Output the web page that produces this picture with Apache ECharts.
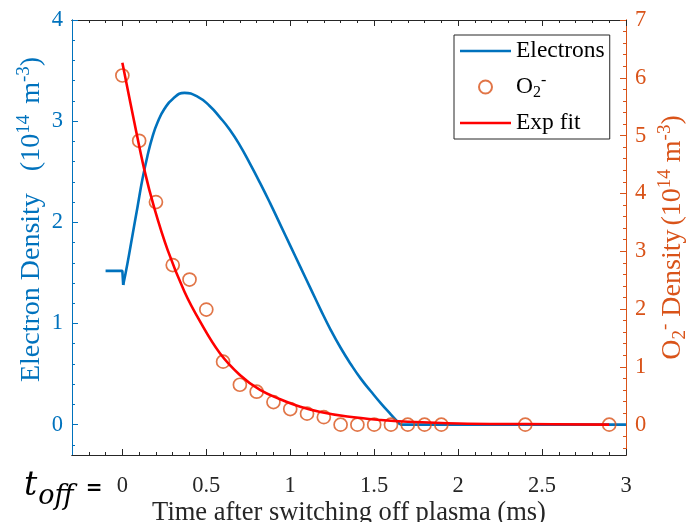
<!DOCTYPE html>
<html>
<head>
<meta charset="utf-8">
<script src="https://cdn.jsdelivr.net/npm/echarts@6/dist/echarts.min.js"></script>
<style>
  html, body { margin: 0; padding: 0; background: #fff; }
  #chart { width: 698px; height: 522px; }
</style>
</head>
<body>
<div id="chart"></div>
<script>
// Electron density (1e14 m^-3) vs time after plasma switch-off (ms)
const electronsBefore = [[-0.1, 1.52], [0, 1.52], [0.005, 1.38]];
const electronsDecay = [
  [0.005, 1.38], [0.03, 1.59], [0.06, 1.87], [0.09, 2.15], [0.12, 2.43],
  [0.15, 2.66], [0.18, 2.85], [0.21, 2.99], [0.25, 3.12],
  [0.30, 3.22], [0.37, 3.28], [0.45, 3.24], [0.52, 3.15], [0.58, 3.04],
  [0.64, 2.915], [0.70, 2.76], [0.76, 2.58], [0.82, 2.39], [0.88, 2.19],
  [0.94, 1.98], [1.00, 1.77], [1.06, 1.56], [1.12, 1.35], [1.18, 1.14],
  [1.24, 0.94], [1.30, 0.76], [1.36, 0.60], [1.42, 0.455], [1.48, 0.33],
  [1.54, 0.21], [1.60, 0.10], [1.655, 0]
];
const electronsAfter = [[1.655, 0], [3.0, 0]];

// Measured O2- density (1e14 m^-3)
const o2Times = [0, 0.1, 0.2, 0.3, 0.4, 0.5, 0.6, 0.7, 0.8, 0.9, 1.0, 1.1,
  1.2, 1.3, 1.4, 1.5, 1.6, 1.7, 1.8, 1.9, 2.4, 2.9];
const o2Density = [6.04, 4.91, 3.85, 2.76, 2.51, 1.99, 1.09, 0.69, 0.57, 0.39,
  0.27, 0.19, 0.13, 0, 0, 0, 0, 0, 0, 0, 0, 0];

// Exponential fit through the O2- points
const expFit = [
  [0, 6.26], [0.07, 5.25], [0.13, 4.42], [0.19, 3.75], [0.27, 3.02],
  [0.37, 2.30], [0.46, 1.80], [0.58, 1.24], [0.70, 0.86], [0.82, 0.60],
  [0.94, 0.44], [1.06, 0.31], [1.18, 0.22], [1.34, 0.14], [1.54, 0.08],
  [1.70, 0.05], [2.00, 0.02], [2.40, 0.01], [2.90, 0.0]
];

// Tick positions
const xLabels = [0, 0.5, 1, 1.5, 2, 2.5, 3];
const xMinor = [-0.2, -0.1, 0.1, 0.2, 0.3, 0.4, 0.6, 0.7, 0.8, 0.9, 1.1, 1.2, 1.3, 1.4,
  1.6, 1.7, 1.8, 1.9, 2.1, 2.2, 2.3, 2.4, 2.6, 2.7, 2.8, 2.9];
const leftLabels = [0, 1, 2, 3, 4];
const leftMinor = [-0.2, 0.2, 0.4, 0.6, 0.8, 1.2, 1.4, 1.6, 1.8, 2.2, 2.4, 2.6, 2.8,
  3.2, 3.4, 3.6, 3.8];
const rightLabels = [0, 1, 2, 3, 4, 5, 6, 7];
const rightMinor = [-0.4, -0.2, 0.2, 0.4, 0.6, 0.8, 1.2, 1.4, 1.6, 1.8, 2.2, 2.4, 2.6, 2.8,
  3.2, 3.4, 3.6, 3.8, 4.2, 4.4, 4.6, 4.8, 5.2, 5.4, 5.6, 5.8, 6.2, 6.4, 6.6, 6.8];

const BLUE = '#0072BD';
const ORANGE = '#D95319';
const RED = '#FF0000';
const DARK = '#262626';
const SERIF = '"Liberation Serif", "Times New Roman", serif';
const LINE_ICON = 'path://M0,0H51V2.6H0Z';

function richScripts(color) {
  const base = { fontFamily: SERIF, color: color, lineHeight: 34 };
  return {
    n: Object.assign({ fontSize: 28, verticalAlign: 'middle' }, base),
    gw: Object.assign({ fontSize: 28, width: 22 }, base),
    gs: Object.assign({ fontSize: 28, width: 11 }, base),
    gn: Object.assign({ fontSize: 28, width: 4 }, base),
    sup: Object.assign({ fontSize: 19, verticalAlign: 'top' }, base),
    sub: Object.assign({ fontSize: 19, verticalAlign: 'bottom' }, base)
  };
}

function xAxisDef(position, values, len, withLabels) {
  return {
    type: 'value', position: position, min: -0.3, max: 3,
    axisLine: { show: true, onZero: false, lineStyle: { color: DARK, width: 1 } },
    axisTick: { show: true, inside: true, length: len, customValues: values, lineStyle: { color: DARK } },
    axisLabel: withLabels ? {
      show: true, customValues: values, margin: 20, color: DARK,
      fontFamily: SERIF, fontSize: 22.5, formatter: v => String(v)
    } : { show: false },
    splitLine: { show: false }
  };
}

function yAxisDef(position, min, max, color, values, len, withLabels) {
  return {
    type: 'value', position: position, min: min, max: max,
    axisLine: { show: true, onZero: false, lineStyle: { color: color, width: 1 } },
    axisTick: { show: true, inside: true, length: len, customValues: values, lineStyle: { color: color } },
    axisLabel: withLabels ? {
      show: true, customValues: values, margin: 9, color: color,
      fontFamily: SERIF, fontSize: 22.5, formatter: v => String(v)
    } : { show: false },
    splitLine: { show: false }
  };
}

const chart = echarts.init(document.getElementById('chart'), null, { renderer: 'canvas' });

const xMain = xAxisDef('bottom', xLabels, 6, true);
xMain.name = 'Time after switching off plasma (ms)';
xMain.nameLocation = 'middle';
xMain.nameGap = 45;
xMain.nameMoveOverlap = false;
xMain.nameTextStyle = { fontFamily: SERIF, fontSize: 26.5, color: DARK };

const yLeft = yAxisDef('left', -0.3, 4, BLUE, leftLabels, 6, true);
yLeft.name = '{n|Electron Density}{gw|}{n|(10}{sup|14}{gs|}{n|m}{sup|-3}{n|)}';
yLeft.nameLocation = 'middle';
yLeft.nameRotate = 90;
yLeft.nameGap = 23;
yLeft.nameMoveOverlap = false;
yLeft.nameTextStyle = { color: BLUE, padding: [0, 0, 0, 36], rich: richScripts(BLUE) };

const yRight = yAxisDef('right', -0.525, 7, ORANGE, rightLabels, 6, true);
yRight.name = '{n|O}{sub|2}{sup|-}{n| Density}{gn|}{n|(10}{sup|14}{n| m}{sup|-3}{n|)}';
yRight.nameLocation = 'middle';
yRight.nameRotate = 90;
yRight.nameGap = 30;
yRight.nameMoveOverlap = false;
yRight.nameTextStyle = { color: ORANGE, rich: richScripts(ORANGE) };

const option = {
  backgroundColor: '#fff',
  animation: false,
  grid: { left: 72, right: 72, top: 20, bottom: 67, outerBoundsMode: 'none', containLabel: false },
  xAxis: [
    xMain,
    xAxisDef('bottom', xMinor, 3, false),
    xAxisDef('top', xLabels, 6, false),
    xAxisDef('top', xMinor, 3, false)
  ],
  yAxis: [
    yLeft,
    yRight,
    yAxisDef('left', -0.3, 4, BLUE, leftMinor, 3, false),
    yAxisDef('right', -0.525, 7, ORANGE, rightMinor, 3, false)
  ],
  legend: {
    orient: 'vertical',
    left: 454, top: 35,
    padding: [4, 5, 4, 6],
    itemGap: 10,
    itemWidth: 51,
    itemHeight: 13,
    backgroundColor: '#fff',
    borderColor: DARK,
    borderWidth: 1,
    borderRadius: 0,
    data: [
      { name: 'Electrons', icon: LINE_ICON },
      { name: 'O2-' },
      { name: 'Exp fit', icon: LINE_ICON }
    ],
    formatter: name => name === 'O2-' ? '{n|O}{sub|2}{sup|-}' : '{n|' + name + '}',
    textStyle: {
      rich: {
        n: { fontFamily: SERIF, fontSize: 23.5, color: '#000', lineHeight: 28 },
        sup: { fontFamily: SERIF, fontSize: 16, color: '#000', lineHeight: 28, verticalAlign: 'top' },
        sub: { fontFamily: SERIF, fontSize: 16, color: '#000', lineHeight: 28, verticalAlign: 'bottom' }
      }
    }
  },
  graphic: [{
    type: 'text',
    left: 24, top: 470,
    style: {
      text: '{t|t}{s|off}{e|=}',
      rich: {
        t: { fontFamily: '"DejaVu Serif", serif', fontStyle: 'italic', fontSize: 33, fill: '#000', lineHeight: 40, verticalAlign: 'top' },
        s: { fontFamily: '"DejaVu Serif", serif', fontStyle: 'italic', fontSize: 27, fill: '#000', lineHeight: 40, verticalAlign: 'bottom', padding: [0, 0, 0, 1] },
        e: { fontFamily: '"DejaVu Sans", sans-serif', fontWeight: 'bold', fontSize: 20, fill: '#000', lineHeight: 40, verticalAlign: 'top', padding: [9, 0, 0, 12] }
      }
    }
  }],
  series: [
    {
      name: 'Electrons', type: 'line', xAxisIndex: 0, yAxisIndex: 0,
      data: electronsBefore, symbol: 'none', smooth: false,
      lineStyle: { color: BLUE, width: 2.6 }, itemStyle: { color: BLUE }, z: 2
    },
    {
      name: 'Electrons', type: 'line', xAxisIndex: 0, yAxisIndex: 0,
      data: electronsDecay, symbol: 'none', smooth: 0.5,
      lineStyle: { color: BLUE, width: 2.6 }, itemStyle: { color: BLUE }, z: 2
    },
    {
      name: 'Electrons', type: 'line', xAxisIndex: 0, yAxisIndex: 0,
      data: electronsAfter, symbol: 'none', smooth: false,
      lineStyle: { color: BLUE, width: 2.6 }, itemStyle: { color: BLUE }, z: 2
    },
    {
      name: 'O2-', type: 'scatter', xAxisIndex: 0, yAxisIndex: 1,
      data: o2Times.map((t, i) => [t, o2Density[i]]),
      symbol: 'circle', symbolSize: 13,
      itemStyle: { color: 'rgba(0,0,0,0)', borderColor: ORANGE, borderWidth: 1.7 }, z: 3
    },
    {
      name: 'Exp fit', type: 'line', xAxisIndex: 0, yAxisIndex: 1,
      data: expFit, symbol: 'none', smooth: 0.4,
      lineStyle: { color: RED, width: 2.6 }, itemStyle: { color: RED }, z: 4
    }
  ]
};

chart.setOption(option);
</script>
</body>
</html>
